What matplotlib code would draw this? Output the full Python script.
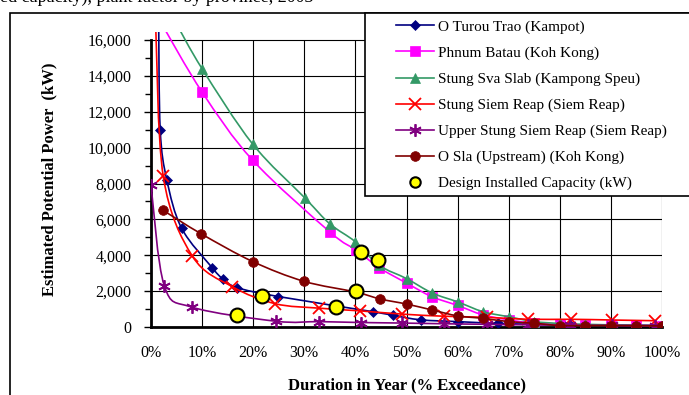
import numpy as np
import matplotlib
matplotlib.use('Agg')
import matplotlib.pyplot as plt
from matplotlib.path import Path
from matplotlib.patches import PathPatch, Rectangle
from matplotlib.lines import Line2D
from matplotlib.ticker import MultipleLocator, FuncFormatter

plt.rcParams['font.family'] = ['Liberation Serif', 'DejaVu Serif']

# duration (% exceedance) vs estimated potential power (kW)
turou_x = [1.5, 1.8, 3.1, 6.0, 12.0, 14.0, 16.8, 24.9, 43.5, 47.3, 52.8, 60.0, 68.0, 75.0, 82.0, 90.0, 100.0]
turou_y = [17000, 11000, 8200, 5500, 3300, 2700, 2200, 1700, 850, 650, 400, 300, 200, 150, 120, 100, 80]

batau_x = [1.9, 10.0, 19.9, 35.0, 40.1, 44.7, 50.0, 54.9, 60.0, 64.9, 70.0, 75.0, 80.0, 85.0, 90.0, 95.0, 100.0]
batau_y = [17000, 13100, 9300, 5300, 4300, 3300, 2450, 1700, 1200, 680, 400, 200, 150, 120, 100, 90, 80]

svaslab_x = [4.8, 10.0, 19.9, 30.1, 35.0, 40.0, 44.6, 50.0, 55.0, 60.0, 65.0, 70.0, 75.0, 80.0, 85.0, 90.0, 95.0, 100.0]
svaslab_y = [17000, 14400, 10200, 7200, 5750, 4750, 3450, 2700, 1900, 1400, 850, 570, 300, 200, 150, 120, 100, 80]

siemreap_x = [0.9, 2.4, 8.1, 15.9, 24.3, 32.9, 40.9, 49.1, 57.4, 65.7, 73.8, 82.1, 90.3, 98.6]
siemreap_y = [17000, 8400, 3950, 2250, 1300, 1050, 900, 720, 600, 540, 430, 430, 390, 350]

upper_x = [0.0, 2.6, 8.1, 24.5, 32.9, 41.0, 49.2, 57.4, 65.7, 73.8, 82.0, 90.3, 98.6]
upper_y = [7900, 2300, 1100, 320, 300, 250, 220, 180, 150, 120, 100, 90, 80]

osla_x = [2.4, 9.8, 19.9, 29.9, 40.0, 44.9, 50.0, 55.0, 60.0, 65.0, 70.0, 75.0, 80.0, 85.0, 90.0, 95.0, 100.0]
osla_y = [6500, 5200, 3650, 2550, 1950, 1560, 1280, 950, 620, 480, 300, 210, 80, 80, 80, 70, 60]

design_x = [16.9, 21.7, 36.3, 40.1, 41.0, 44.4]
design_y = [650, 1750, 1100, 2000, 4200, 3750]

labels = ['O Turou Trao (Kampot)', 'Phnum Batau (Koh Kong)', 'Stung Sva Slab (Kampong Speu)',
          'Stung Siem Reap (Siem Reap)', 'Upper Stung Siem Reap (Siem Reap)',
          'O Sla (Upstream) (Koh Kong)', 'Design Installed Capacity (kW)']

ASTER = (6, 2, 0)
series = [
    (turou_x, turou_y, '#000080', 'D', 5.5, 'none'),
    (batau_x, batau_y, '#FF00FF', 's', 7, 'none'),
    (svaslab_x, svaslab_y, '#339966', '^', 7.5, 'none'),
    (siemreap_x, siemreap_y, '#FF0000', 'x', 8, None),
    (upper_x, upper_y, '#800080', ASTER, 9, None),
    (osla_x, osla_y, '#800000', 'o', 7, 'none'),
]


def smooth_path(xs, ys):
    # excel-like smoothed line: catmull-rom segments as cubic bezier
    p = np.column_stack([xs, ys]).astype(float)
    n = len(p)
    verts = [p[0]]
    codes = [Path.MOVETO]
    for i in range(n - 1):
        p0 = p[max(i - 1, 0)]; p1 = p[i]; p2 = p[i + 1]; p3 = p[min(i + 2, n - 1)]
        verts += [p1 + (p2 - p0) / 6.0, p2 - (p3 - p1) / 6.0, p2]
        codes += [Path.CURVE4] * 3
    return Path(verts, codes)


W, H = 689, 395
fig = plt.figure(figsize=(W / 100, H / 100), dpi=100)
ax = fig.add_axes([151 / W, 1 - 327 / H, (662 - 151) / W, (327 - 32) / H])

handles = []
for k, (xs, ys, col, mk, ms, mew) in enumerate(series):
    ax.add_patch(PathPatch(smooth_path(xs, ys), fill=False, edgecolor=col, lw=1.2, zorder=3 + k))
    kw = dict(mew=1.3) if mew is None else dict(mec=col, mew=0.5)
    ax.plot(xs, ys, ls='none', marker=mk, ms=ms, color=col, zorder=3 + k, **kw)
    handles.append(Line2D([], [], color=col, lw=1.2, marker=mk, ms=ms, **kw))

ax.plot(design_x, design_y, ls='none', marker='o', ms=10, mfc='#FFFF00', mec='black', mew=1.5, zorder=12)
handles.append(Line2D([], [], ls='none', marker='o', ms=7.5, mfc='#FFFF00', mec='black', mew=1.5))

ax.set_xlim(0, 100)
ax.set_ylim(0, 16450)
ax.xaxis.set_major_locator(MultipleLocator(10))
ax.xaxis.set_major_formatter(FuncFormatter(lambda v, p: f'{v:.0f}%'))
ax.yaxis.set_minor_locator(MultipleLocator(1000))
ax.set_yticks(np.arange(0, 16001, 2000))
ax.yaxis.set_major_formatter(FuncFormatter(lambda v, p: f'{v:,.0f}'))
ax.tick_params(axis='x', length=0, pad=13, labelsize=11.5)
ax.tick_params(axis='y', which='major', length=5, width=1, pad=9, labelsize=11.5, direction='out')
ax.tick_params(axis='y', which='minor', length=4, width=1, direction='out')

# grid stops at the 16,000 line
ax.yaxis.grid(True, color='black', lw=0.8, zorder=1)
ax.vlines(np.arange(10, 101, 10), 0, 16000, color='black', lw=0.8, zorder=1)
ax.set_axisbelow(True)
for s in ('top', 'right'):
    ax.spines[s].set_visible(False)
ax.spines['left'].set_bounds(0, 16000)
ax.spines['left'].set_linewidth(2)
ax.spines['bottom'].set_linewidth(2)

ax.set_ylabel('Estimated Potential Power  (kW)', fontsize=12, fontweight='bold')
ax.set_xlabel('Duration in Year (% Exceedance)', fontsize=12, fontweight='bold')
ax.yaxis.set_label_coords(-0.183, 0.5)
ax.xaxis.set_label_coords(0.5, -0.17)

# outer chart border and legend box
fig.patches.append(Rectangle((10 / W, -0.1), 1.2, 1 - 13 / H + 0.1, transform=fig.transFigure,
                             fill=False, edgecolor='black', lw=1.2, zorder=0))
fig.patches.append(Rectangle((365 / W, 1 - 196 / H), 1.0, (196 - 13) / H, transform=fig.transFigure,
                             facecolor='white', edgecolor='black', lw=1.2, zorder=4))
fig.legend(handles, labels, loc='upper left', bbox_to_anchor=(396 / W, 1 - 20 / H),
           frameon=False, fontsize=11, borderpad=0, borderaxespad=0,
           handlelength=2.5, handletextpad=0.25, labelspacing=0.8)

# caption above the chart, cut off by the page edge
fig.text(0.0, 1 - 1.5 / H, 'ed capacity), plant factor by province, 2003', fontsize=13,
         va='baseline', ha='left')

fig.savefig('out.png', dpi=100)
